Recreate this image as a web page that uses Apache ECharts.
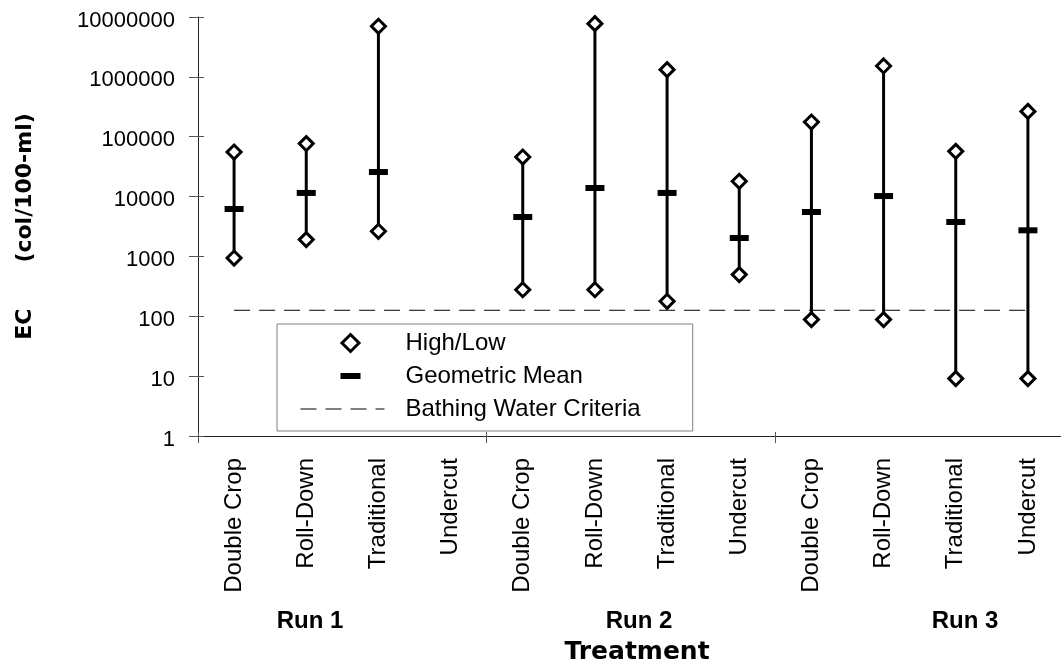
<!DOCTYPE html>
<html>
<head>
<meta charset="utf-8">
<title>EC by treatment</title>
<script src="https://cdn.jsdelivr.net/npm/echarts@6/dist/echarts.min.js"></script>
<style>
  html, body { margin: 0; padding: 0; background: #fff; }
  #chart { width: 1061px; height: 664px; }
</style>
</head>
<body>
<div id="chart"></div>
<script>
// Treatments, repeated for each run
const categories = [
  'Double Crop', 'Roll-Down', 'Traditional', 'Undercut',
  'Double Crop', 'Roll-Down', 'Traditional', 'Undercut',
  'Double Crop', 'Roll-Down', 'Traditional', 'Undercut'
];
const runLabels = ['Run 1', 'Run 2', 'Run 3'];

// EC counts (col/100-ml); null = no samples
const highValues = [55500, 76700, 6990000, null, 45800, 7750000, 1320000, 18000, 176000, 1520000, 57000, 265000];
const lowValues  = [940, 1910, 2630, null, 278, 278, 178, 497, 88, 88, 9.1, 9.1];
const meanValues = [6200, 11500, 25700, null, 4560, 13900, 11500, 2030, 5520, 10200, 3760, 2730];
const criteriaValue = 126;

const yTickLabels = ['1', '10', '100', '1000', '10000', '100000', '1000000', '10000000'];

const FONT = '"Liberation Sans", Arial, Helvetica, sans-serif';
const TITLE_FONT = '"DejaVu Sans", Verdana, sans-serif';
const runLabelX = [310, 639, 965];

const rangeData = [], hiloData = [], meanData = [];
categories.forEach((c, i) => {
  if (highValues[i] == null) return;
  rangeData.push([i, lowValues[i], highValues[i]]);
  hiloData.push([i, highValues[i]], [i, lowValues[i]]);
  meanData.push([i, meanValues[i]]);
});

// legend icons, drawn in a 100 x 17 box (the leading moves fix the box extent)
const ICON_BOX = 'M0,0M100,17';
const ICON_DIAMOND = 'path://' + ICON_BOX + 'M50,0L58.5,8.5L50,17L41.5,8.5Z';
const ICON_DASH = 'path://' + ICON_BOX + 'M40,5.5h20v6h-20z';
const ICON_DASHED_LINE = 'path://' + ICON_BOX +
  'M0,8h16v1h-16zM25,8h16v1h-16zM50,8h16v1h-16zM75,8h9v1h-9z';

// group boundary ticks between runs
const runBoundary = (index) => index % 4 === 0;

const chart = echarts.init(document.getElementById('chart'), null, { renderer: 'canvas' });

const axisLineStyle = { color: '#222', width: 1 };
const tickLineStyle = { color: '#555', width: 1 };

chart.setOption({
  animation: false,
  backgroundColor: '#fff',
  grid: { left: 198, top: 17, width: 866, height: 419, outerBoundsMode: 'none', containLabel: false },
  xAxis: [
    {
      type: 'category',
      data: categories,
      boundaryGap: true,
      axisLine: { show: true, lineStyle: axisLineStyle },
      axisTick: { show: true, interval: runBoundary, length: 7, lineStyle: tickLineStyle },
      axisLabel: { interval: 0, rotate: 90, margin: 22, fontSize: 24, fontFamily: FONT, color: '#000' },
      splitLine: { show: false },
      name: 'Treatment',
      nameLocation: 'middle',
      nameGap: 204,
      nameTextStyle: { fontFamily: TITLE_FONT, fontWeight: 'bold', fontSize: 25, color: '#000', padding: [0, 0, 0, 12] }
    },
    {
      type: 'category',
      data: categories,
      position: 'bottom',
      axisLine: { show: false },
      axisTick: { show: true, inside: true, interval: runBoundary, length: 4, lineStyle: tickLineStyle },
      axisLabel: { show: false },
      splitLine: { show: false }
    }
  ],
  yAxis: [
    {
      type: 'log',
      logBase: 10,
      min: 1,
      max: 10000000,
      axisLine: { show: true, lineStyle: axisLineStyle },
      axisTick: { show: true, length: 9, lineStyle: tickLineStyle },
      minorTick: { show: false },
      splitLine: { show: false },
      axisLabel: {
        fontSize: 22, fontFamily: FONT, color: '#000', margin: 23,
        // a short empty first line drops each number slightly below its tick
        lineHeight: 7,
        formatter: v => '\n' + yTickLabels[Math.round(Math.log10(v))]
      },
      name: 'EC      (col/100-ml)',
      nameLocation: 'middle',
      nameRotate: 90,
      nameGap: 162,
      nameTextStyle: { fontFamily: TITLE_FONT, fontWeight: 'bold', fontSize: 22, color: '#000' }
    },
    {
      type: 'log',
      logBase: 10,
      min: 1,
      max: 10000000,
      position: 'left',
      axisLine: { show: false },
      axisTick: { show: true, inside: true, length: 6, lineStyle: tickLineStyle },
      axisLabel: { show: false },
      splitLine: { show: false }
    }
  ],
  legend: {
    orient: 'vertical',
    left: 277,
    top: 324,
    padding: [7, 52, 10, 22],
    itemWidth: 100,
    itemHeight: 17,
    itemGap: 9,
    itemTextGap: 5,
    selectedMode: false,
    borderColor: '#808080',
    borderWidth: 1,
    backgroundColor: '#fff',
    textStyle: { fontFamily: FONT, fontSize: 24, color: '#000' },
    data: [
      { name: 'High/Low', icon: ICON_DIAMOND, itemStyle: { color: '#fff', borderColor: '#000', borderWidth: 3 } },
      { name: 'Geometric Mean', icon: ICON_DASH, itemStyle: { color: '#000', borderWidth: 0 } },
      { name: 'Bathing Water Criteria', icon: ICON_DASHED_LINE, itemStyle: { color: '#000', borderWidth: 0 } }
    ]
  },
  graphic: runLabels.map((t, i) => ({
    type: 'text',
    x: runLabelX[i],
    y: 621,
    silent: true,
    style: {
      text: t, fill: '#000',
      font: 'bold 24px ' + FONT,
      align: 'center', verticalAlign: 'middle',
      textAlign: 'center', textVerticalAlign: 'middle'
    }
  })),
  series: [
    {
      name: 'Bathing Water Criteria',
      type: 'line',
      data: categories.map(() => criteriaValue),
      symbol: 'none',
      itemStyle: { color: '#000' },
      lineStyle: { color: '#000', width: 1, type: [16, 9] },
      z: 1,
      silent: true
    },
    {
      name: 'range',
      type: 'custom',
      data: rangeData,
      encode: { x: 0, y: [1, 2] },
      z: 2,
      silent: true,
      renderItem: (params, api) => {
        const x = api.value(0);
        const p1 = api.coord([x, api.value(1)]);
        const p2 = api.coord([x, api.value(2)]);
        return {
          type: 'line',
          shape: { x1: p1[0], y1: p1[1], x2: p2[0], y2: p2[1] },
          style: { stroke: '#000', lineWidth: 3 }
        };
      }
    },
    {
      name: 'High/Low',
      type: 'scatter',
      data: hiloData,
      symbol: 'diamond',
      symbolSize: 14,
      itemStyle: { color: '#fff', borderColor: '#000', borderWidth: 3, opacity: 1 },
      z: 3,
      silent: true
    },
    {
      name: 'Geometric Mean',
      type: 'scatter',
      data: meanData,
      symbol: 'rect',
      symbolSize: [19, 6],
      itemStyle: { color: '#000', opacity: 1 },
      z: 4,
      silent: true
    }
  ]
});
</script>
</body>
</html>
